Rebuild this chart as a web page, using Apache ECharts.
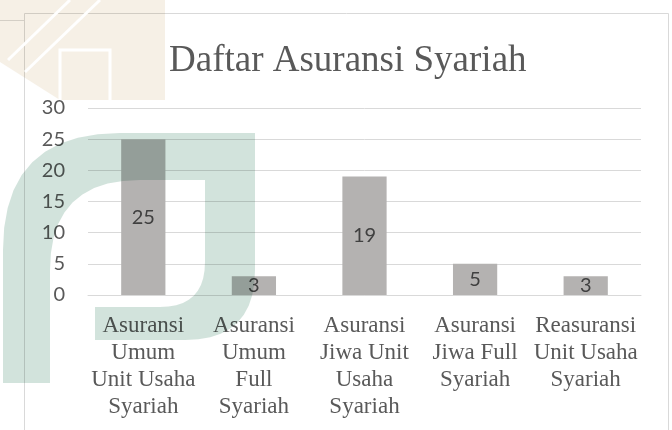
<!DOCTYPE html>
<html>
<head>
<meta charset="utf-8">
<script src="https://cdn.jsdelivr.net/npm/echarts@6/dist/echarts.min.js"></script>
<style>
  html, body { margin: 0; padding: 0; background: #fff; }
  #main { width: 672px; height: 430px; }
</style>
</head>
<body>
<div id="main"></div>
<script>
// data
var categories = [
    'Asuransi\nUmum\nUnit Usaha\nSyariah',
    'Asuransi\nUmum\nFull\nSyariah',
    'Asuransi\nJiwa Unit\nUsaha\nSyariah',
    'Asuransi\nJiwa Full\nSyariah',
    'Reasuransi\nUnit Usaha\nSyariah'
];
var jumlah = [25, 3, 19, 5, 3];
var yTicks = [0, 5, 10, 15, 20, 25, 30];

// outline of the scanned watermark arch (straight segments + quadratic corners)
function archOutline() {
    var pts = [];
    function quad(p0, c, p1) {
        for (var t = 0; t <= 1.0001; t += 0.1) {
            var u = 1 - t;
            pts.push([u * u * p0[0] + 2 * u * t * c[0] + t * t * p1[0],
                      u * u * p0[1] + 2 * u * t * c[1] + t * t * p1[1]]);
        }
    }
    pts.push([3, 383]);
    quad([3, 250], [3, 133], [120, 133]);
    pts.push([255, 133]);
    quad([255, 270], [255, 340], [185, 340]);
    pts.push([95, 340]);
    pts.push([95, 307]);
    quad([160, 307], [205, 307], [205, 262]);
    pts.push([205, 180]);
    quad([140, 180], [50, 180], [50, 270]);
    pts.push([50, 383]);
    return pts;
}

var serif = '"Liberation Serif", "Times New Roman", serif';

var chart = echarts.init(document.getElementById('main'), null, { renderer: 'canvas' });

var option = {
    backgroundColor: '#ffffff',
    animation: false,
    title: {
        text: 'Daftar Asuransi Syariah',
        left: 164,
        top: 38,
        textStyle: {
            color: '#595959',
            fontFamily: serif,
            fontWeight: 'normal',
            fontSize: 37
        }
    },
    grid: {
        left: 88,
        right: 31,
        top: 108,
        bottom: 135
    },
    xAxis: {
        type: 'category',
        data: categories,
        axisTick: { show: false },
        axisLine: {
            show: true,
            lineStyle: { color: '#d9d9d9', width: 1 }
        },
        axisLabel: {
            interval: 0,
            margin: 17,
            color: '#595959',
            fontFamily: serif,
            fontWeight: 'normal',
            fontSize: 23,
            lineHeight: 27
        }
    },
    yAxis: {
        type: 'value',
        min: yTicks[0],
        max: yTicks[yTicks.length - 1],
        interval: 5,
        axisLine: { show: false },
        axisTick: { show: false },
        splitLine: {
            lineStyle: { color: '#d9d9d9', width: 1 }
        },
        axisLabel: {
            margin: 23,
            color: '#595959',
            fontFamily: 'Lato',
            fontSize: 20
        }
    },
    series: [
        {
            name: 'Jumlah',
            type: 'bar',
            data: jumlah,
            barWidth: '40%',
            itemStyle: { color: '#b4b2b1' },
            label: {
                show: true,
                position: 'inside',
                color: '#404040',
                fontFamily: 'Lato',
                fontSize: 20
            }
        }
    ],
    graphic: [
        // frame of the chart area
        {
            type: 'rect',
            z: -10,
            shape: { x: 24.5, y: 13.5, width: 644, height: 430 },
            style: { fill: 'none', stroke: '#d9d9d9', lineWidth: 1 }
        },
        {
            type: 'line',
            z: -10,
            shape: { x1: 0, y1: 20.5, x2: 24, y2: 20.5 },
            style: { stroke: '#dcdcdc', lineWidth: 1 }
        },
        // scanned watermark (tan ornament, top left)
        {
            type: 'polygon',
            z: 100,
            shape: { points: [[0, 0], [165, 0], [165, 100], [60, 100], [0, 62]] },
            style: { fill: '#f6f0e6', blend: 'multiply' }
        },
        {
            type: 'polyline',
            z: 101,
            shape: { points: [[8, 60], [70, 0]] },
            style: { stroke: '#ffffff', lineWidth: 3 }
        },
        {
            type: 'polyline',
            z: 101,
            shape: { points: [[25, 72], [100, 0]] },
            style: { stroke: '#ffffff', lineWidth: 3 }
        },
        {
            type: 'polyline',
            z: 101,
            shape: { points: [[60, 100], [60, 50], [110, 50], [110, 100]] },
            style: { stroke: '#ffffff', lineWidth: 3, fill: 'none' }
        },
        // scanned watermark (green arch)
        {
            type: 'polygon',
            z: 100,
            shape: { points: archOutline() },
            style: { fill: '#d2e3dc', blend: 'multiply' }
        }
    ]
};

chart.setOption(option);
window.onresize = chart.resize;
</script>
</body>
</html>
